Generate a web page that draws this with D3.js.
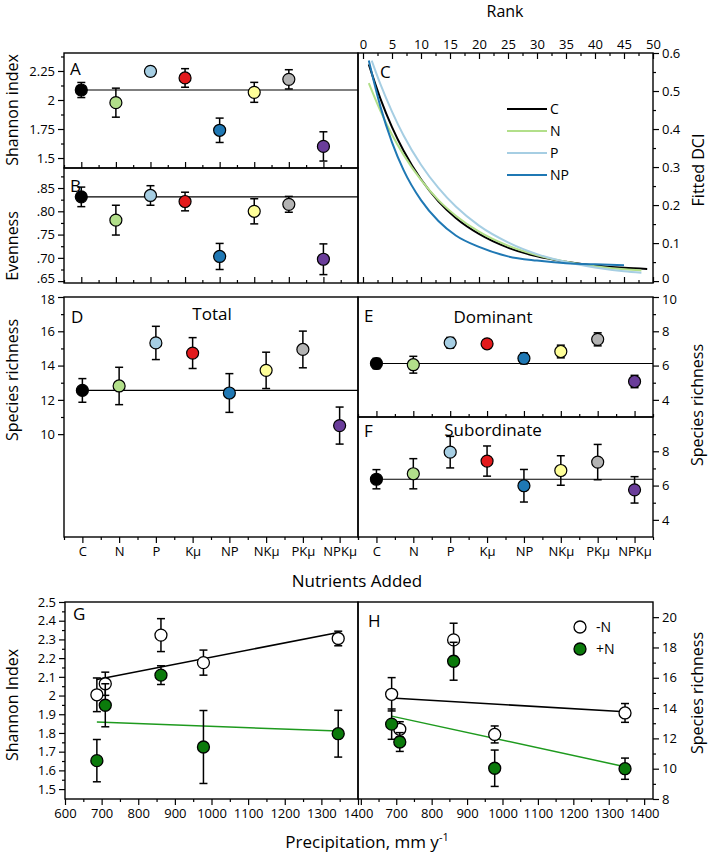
<!DOCTYPE html>
<html><head><meta charset="utf-8">
<script src="https://cdn.jsdelivr.net/npm/d3@7"></script>
<style>
body{margin:0;background:#fff;}
svg{display:block;font-family:"Open Sans",sans-serif;}
.axis path{display:none;}
.axis line{stroke:#000;stroke-width:1.2;}
.axis text{font-size:13px;fill:#000;font-family:"Open Sans",sans-serif;}
</style></head><body>
<svg id="chart" width="709" height="856"></svg>
<script>
// ---------------- data ----------------
const categories = ["C","N","P","Kμ","NP","NKμ","PKμ","NPKμ"];
const catColors = ["#000000","#b2df8a","#a6cee3","#e31a1c","#1f78b4","#ffff99","#b3b3b3","#6a3d9a"];

const shannonMean = [2.086, 1.977, 2.247, 2.19, 1.739, 2.066, 2.178, 1.60];
const shannonErr  = [0.065, 0.125, 0.04, 0.08, 0.105, 0.086, 0.083, 0.126];
const evenMean = [0.831, 0.781, 0.834, 0.821, 0.703, 0.800, 0.815, 0.697];
const evenErr  = [0.021, 0.032, 0.021, 0.020, 0.028, 0.027, 0.017, 0.033];
const totalMean = [12.55, 12.81, 15.32, 14.73, 12.4, 13.72, 14.94, 10.5];
const totalErr  = [0.69, 1.09, 0.97, 0.9, 1.13, 1.06, 1.07, 1.08];
const domMean = [6.12, 6.05, 7.33, 7.27, 6.42, 6.82, 7.53, 5.07];
const domErr  = [0.3, 0.49, 0.31, 0.15, 0.32, 0.37, 0.38, 0.36];
const subMean = [6.37, 6.69, 7.95, 7.43, 5.99, 6.88, 7.37, 5.75];
const subErr  = [0.56, 0.88, 0.92, 0.88, 0.95, 0.86, 1.03, 0.77];

// Panel C: fitted DCI curves (rank, value)
const curveNames = ["C","N","P","NP"];
const curveColors = ["#000000","#b2df8a","#a6cee3","#1f78b4"];
const rankC  = [1,3,5,7,10,13,16,20,25,30,35,40,45,49];
const dciC   = [.570,.480,.405,.343,.268,.210,.166,.124,.088,.065,.051,.041,.035,.032];
const rankN  = [1,3,5,7,10,13,16,20,25,30,35,40,45,48];
const dciN   = [.521,.448,.385,.332,.266,.213,.172,.130,.093,.068,.051,.039,.031,.028];
const rankP  = [1.5,3,5,7,10,13,16,20,25,30,35,40,45,48];
const dciP   = [.580,.518,.446,.383,.306,.245,.196,.146,.102,.071,.050,.036,.026,.022];
const rankNP = [1,3,5,7,10,13,16,20,25,30,35,40,45];
const dciNP  = [.580,.459,.365,.292,.213,.158,.120,.090,.065,.054,.047,.044,.042];

// Panels G/H
const precip = [687, 710, 862, 978, 1346];
const shanMinusN = [2.004, 2.063, 2.323, 2.176, 2.305];
const shanMinusNErr = [0.09, 0.062, 0.088, 0.067, 0.039];
const shanPlusN = [1.652, 1.948, 2.109, 1.725, 1.796];
const shanPlusNErr = [0.113, 0.115, 0.05, 0.195, 0.125];
const richMinusN = [14.91, 12.6, 18.5, 12.26, 13.68];
const richMinusNErr = [1.1, 0.5, 1.1, 0.56, 0.62];
const richPlusN = [12.94, 11.76, 17.09, 10.03, 10.0];
const richPlusNErr = [1.0, 0.62, 1.25, 1.2, 0.7];
const fitX = [687, 1346];
const fitShanMinusN = [2.086, 2.337];
const fitShanPlusN = [1.859, 1.81];
const fitRichMinusN = [14.67, 13.75];
const fitRichPlusN = [13.47, 10.13];

// tick values
const shannonTicks = [1.5, 1.75, 2, 2.25];
const evenTicks = [0.65, 0.70, 0.75, 0.80, 0.85];
const totalTicks = [10, 12, 14, 16, 18];
const subTicksE = [4, 6, 8, 10];
const subTicksF = [4, 6, 8];
const rankTicks = [0,5,10,15,20,25,30,35,40,45,50];
const dciTicks = [0,0.1,0.2,0.3,0.4,0.5,0.6];
const gShanTicks = [1.5,1.6,1.7,1.8,1.9,2.0,2.1,2.2,2.3,2.4,2.5];
const precipTicks = [600,700,800,900,1000,1100,1200,1300,1400];
const hRichTicks = [8,10,12,14,16,18,20];

// ---------------- drawing ----------------
const svg = d3.select("#chart");
const FONT = '"Open Sans",sans-serif';
const catIdx = categories.map((c,i)=>i+1);
const halfIdx = d3.range(0.5, 9.0, 1);

function addAxis(orient, scale, pos, values, len, fmt, pad) {
  const gen = orient==="left"?d3.axisLeft(scale):orient==="right"?d3.axisRight(scale):orient==="top"?d3.axisTop(scale):d3.axisBottom(scale);
  gen.tickValues(values).tickSize(len).tickPadding(pad==null?3:pad).tickFormat(fmt||(()=>""));
  return svg.append("g").attr("class","axis")
    .attr("transform", (orient==="left"||orient==="right") ? `translate(${pos},0)` : `translate(0,${pos})`)
    .call(gen);
}
function nudge(axisG, value, dy){
  axisG.selectAll(".tick text").filter(d=>Math.abs(d-value)<1e-9).attr("dy",dy);
}
function box(x0,y0,x1,y1){
  svg.append("rect").attr("x",x0).attr("y",y0).attr("width",x1-x0).attr("height",y1-y0)
    .attr("fill","none").attr("stroke","#000").attr("stroke-width",1.4);
}
function text(x,y,s,size,anchor,rot){
  const t = svg.append("text").attr("font-size",size).attr("font-family",FONT).attr("fill","#000")
    .attr("text-anchor",anchor||"start");
  if(rot){ t.attr("transform",`translate(${x},${y}) rotate(${rot})`).attr("dy","0.35em"); }
  else { t.attr("x",x).attr("y",y); }
  t.text(s);
  return t;
}
function errBar(g, x, yTop, yBot){
  g.append("line").attr("x1",x).attr("x2",x).attr("y1",yTop).attr("y2",yBot).attr("stroke","#000").attr("stroke-width",1.5);
  [yTop,yBot].forEach(yy=>g.append("line").attr("x1",x-4).attr("x2",x+4).attr("y1",yy).attr("y2",yy).attr("stroke","#000").attr("stroke-width",1.5));
}
function catPanel(x0,x1,y0,y1,xdom,ydom,mean,err){
  const x=d3.scaleLinear().domain(xdom).range([x0,x1]);
  const y=d3.scaleLinear().domain(ydom).range([y1,y0]);
  svg.append("line").attr("x1",x(1)).attr("x2",x1).attr("y1",y(mean[0])).attr("y2",y(mean[0]))
    .attr("stroke","#000").attr("stroke-width",1.2);
  const g=svg.append("g");
  mean.forEach((m,i)=>errBar(g, x(i+1), y(m+err[i]), y(m-err[i])));
  mean.forEach((m,i)=>g.append("circle").attr("cx",x(i+1)).attr("cy",y(m)).attr("r",6)
    .attr("fill",catColors[i]).attr("stroke","#000").attr("stroke-width",1.2));
  return {x,y};
}

// Panel A
const A = catPanel(64,358,53,168,[0.5,9.0],[1.414,2.405],shannonMean,shannonErr);
addAxis("left",A.y,64,shannonTicks,6,d=>String(d));
addAxis("left",A.y,64,[1.625,1.875,2.125,2.375],3);
addAxis("bottom",A.x,168,catIdx,-6);
addAxis("bottom",A.x,168,halfIdx,-3);
box(64,53,358,168);

// Panel B
const B = catPanel(64,358,168,283,[0.5,9.0],[0.646,0.893],evenMean,evenErr);
const bAxis = addAxis("left",B.y,64,evenTicks,6,d=>d3.format(".2f")(d).replace(/^0/,""));
nudge(bAxis,0.65,"0.12em");
addAxis("left",B.y,64,[0.675,0.725,0.775,0.825,0.875],3);
addAxis("bottom",B.x,283,catIdx,-6);
addAxis("bottom",B.x,283,halfIdx,-3);
box(64,168,358,283);

// Panel C
const cx = d3.scaleLinear().domain([-0.862,50]).range([358,653]);
const cy = d3.scaleLinear().domain([-0.005,0.6]).range([283,53]);
const curveData = [[rankC,dciC],[rankN,dciN],[rankP,dciP],[rankNP,dciNP]];
const lineGen = d3.line().x(d=>cx(d[0])).y(d=>cy(d[1])).curve(d3.curveMonotoneX);
curveData.forEach(([r,v],k)=>{
  svg.append("path").attr("d",lineGen(r.map((rr,i)=>[rr,v[i]])))
    .attr("fill","none").attr("stroke",curveColors[k]).attr("stroke-width",2);
});
const legY = d3.scalePoint().domain(curveNames).range([109,175]);
curveNames.forEach((n,k)=>{
  svg.append("line").attr("x1",507).attr("x2",547).attr("y1",legY(n)).attr("y2",legY(n))
    .attr("stroke",curveColors[k]).attr("stroke-width",2);
  text(550,legY(n)+5,n,14);
});
addAxis("top",cx,53,rankTicks,-6,d=>String(d),4);
addAxis("top",cx,53,d3.range(2.5,50,5),-3);
addAxis("bottom",cx,283,rankTicks,-6);
addAxis("bottom",cx,283,d3.range(2.5,50,5),-3);
const cAxis = addAxis("right",cy,653,dciTicks,6,d=>String(d));
nudge(cAxis,0,"0.12em");
addAxis("right",cy,653,d3.range(0.05,0.6,0.1),3);
box(358,53,653,283);

// Panel D
const D = catPanel(64,358,297,537,[0.5,8.5],[4,18],totalMean,totalErr);
const dAxis = addAxis("left",D.y,64,totalTicks,6,d=>String(d));
nudge(dAxis,18,"0.5em");
addAxis("left",D.y,64,[11,13,15,17],3);
addAxis("bottom",D.x,537,catIdx,6,(d)=>categories[d-1],4);
addAxis("bottom",D.x,537,halfIdx,3);
box(64,297,358,537);

// Panel E
const E = catPanel(358,653,297,417,[0.5,8.5],[3,10],domMean,domErr);
const eAxis = addAxis("right",E.y,653,subTicksE,6,d=>String(d));
nudge(eAxis,10,"0.5em");
addAxis("right",E.y,653,[5,7,9],3);
addAxis("bottom",E.x,417,catIdx,-6);
addAxis("bottom",E.x,417,halfIdx,-3);
box(358,297,653,417);

// Panel F
const F = catPanel(358,653,417,537,[0.5,8.5],[3,10],subMean,subErr);
addAxis("right",F.y,653,subTicksF,6,d=>String(d));
addAxis("right",F.y,653,[5,7,9],3);
addAxis("bottom",F.x,537,catIdx,6,(d)=>categories[d-1],4);
addAxis("bottom",F.x,537,halfIdx,3);
box(358,417,653,537);

// Panel G & H
function scatterPanel(x,y,fx,fitMinus,fitPlus,minus,minusErr,plus,plusErr){
  const g=svg.append("g");
  const lg=d3.line().x(d=>x(d[0])).y(d=>y(d[1]));
  g.append("path").attr("d",lg(fx.map((v,i)=>[v,fitMinus[i]]))).attr("stroke","#000").attr("stroke-width",1.5).attr("fill","none");
  g.append("path").attr("d",lg(fx.map((v,i)=>[v,fitPlus[i]]))).attr("stroke","#1e9a1e").attr("stroke-width",1.5).attr("fill","none");
  precip.forEach((p,i)=>errBar(g,x(p),y(minus[i]+minusErr[i]),y(minus[i]-minusErr[i])));
  precip.forEach((p,i)=>g.append("circle").attr("cx",x(p)).attr("cy",y(minus[i])).attr("r",6)
    .attr("fill","#fff").attr("stroke","#000").attr("stroke-width",1.3));
  precip.forEach((p,i)=>errBar(g,x(p),y(plus[i]+plusErr[i]),y(plus[i]-plusErr[i])));
  precip.forEach((p,i)=>g.append("circle").attr("cx",x(p)).attr("cy",y(plus[i])).attr("r",6)
    .attr("fill","#0b7a0b").attr("stroke","#000").attr("stroke-width",1.3));
}
const gx = d3.scaleLinear().domain([600,1400]).range([65,358]);
const gy = d3.scaleLinear().domain([1.447,2.5]).range([799,602]);
scatterPanel(gx,gy,fitX,fitShanMinusN,fitShanPlusN,shanMinusN,shanMinusNErr,shanPlusN,shanPlusNErr);
addAxis("left",gy,65,gShanTicks,6,d=>String(Math.round(d*10)/10));
addAxis("left",gy,65,d3.range(1.55,2.5,0.1),3);
addAxis("bottom",gx,799,precipTicks,6,d=>String(d),4);
addAxis("bottom",gx,799,d3.range(650,1400,100),3);
box(65,602,358,799);

const hx = d3.scaleLinear().domain([592,1425]).range([358,653]);
const hy = d3.scaleLinear().domain([8,21]).range([799,602]);
scatterPanel(hx,hy,fitX,fitRichMinusN,fitRichPlusN,richMinusN,richMinusNErr,richPlusN,richPlusNErr);
addAxis("bottom",hx,799,precipTicks,6,d=>d===600?"":String(d),4);
addAxis("bottom",hx,799,d3.range(650,1400,100),3);
addAxis("right",hy,653,hRichTicks,6,d=>String(d));
addAxis("right",hy,653,[9,11,13,15,17,19],3);
box(358,602,653,799);
// legend H
svg.append("circle").attr("cx",580).attr("cy",627).attr("r",6).attr("fill","#fff").attr("stroke","#000").attr("stroke-width",1.3);
svg.append("circle").attr("cx",580).attr("cy",649).attr("r",6).attr("fill","#0b7a0b").attr("stroke","#000").attr("stroke-width",1.3);
text(596,632,"-N",14);
text(596,654,"+N",14);

// panel letters
[["A",70,75],["B",70,192],["C",380,78],["D",71,323],["E",364,322],["F",364,437],["G",73,620],["H",368,627]]
  .forEach(([s,x,y])=>text(x,y,s,17));
text(212,320,"Total",17,"middle");
text(493,323,"Dominant",17,"middle");
text(493,436,"Subordinate",17,"middle");

// axis titles
text(505,17,"Rank",16,"middle");
text(698,170,"Fitted DCI",16,"middle",-90);
text(12,110,"Shannon index",16,"middle",-90);
text(12,246,"Evenness",16,"middle",-90);
text(12,380,"Species richness",16,"middle",-90);
text(697,405,"Species richness",16,"middle",-90);
text(12,705,"Shannon Index",16,"middle",-90);
text(697,693,"Species richness",16,"middle",-90);
text(357,587,"Nutrients Added",17,"middle");
const pt = text(367,848,"Precipitation, mm y",17,"middle");
pt.append("tspan").attr("dy",-7).attr("font-size",11).text("-1");
</script>
</body></html>
